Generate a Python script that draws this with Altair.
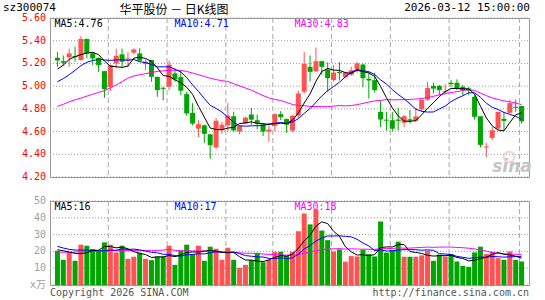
import altair as alt
import pandas as pd

# ---------------- data ----------------
opens = [5.25, 5.22, 5.253, 5.265, 5.23, 5.415, 5.29, 5.25, 5.132, 4.994,
         5.20, 5.28, 5.232, 5.294, 5.288, 5.194, 5.23, 5.082, 4.985, 4.994,
         5.112, 5.08, 4.93, 4.765, 4.625, 4.655, 4.576, 4.46, 4.62, 4.655,
         4.735, 4.60, 4.67, 4.75, 4.70, 4.665, 4.60, 4.65, 4.753, 4.71,
         4.61, 4.74, 4.95, 5.17, 5.13, 5.22, 5.147, 5.053, 5.125, 5.08,
         5.10, 5.15, 5.19, 5.065, 5.053, 4.774, 4.705, 4.70, 4.706, 4.678,
         4.708, 4.696, 4.797, 4.88, 5.002, 5.002, 4.947, 5.03, 5.03, 4.994,
         4.98, 4.906, 4.735, 4.46, 4.544, 4.626, 4.712, 4.765, 4.818, 4.825]
closes = [5.226, 5.206, 5.288, 5.255, 5.415, 5.29, 5.244, 5.185, 4.973, 5.185,
          5.267, 5.215, 5.244, 5.323, 5.224, 5.215, 5.082, 4.965, 4.98, 5.19,
          5.059, 4.96, 4.76, 4.67, 4.665, 4.58, 4.48, 4.695, 4.66, 4.74,
          4.61, 4.65, 4.723, 4.705, 4.67, 4.60, 4.618, 4.753, 4.727, 4.66,
          4.74, 4.935, 5.195, 5.126, 5.22, 5.17, 5.07, 5.12, 5.115, 5.12,
          5.14, 5.20, 5.07, 5.05, 4.965, 4.706, 4.70, 4.625, 4.694, 4.735,
          4.696, 4.733, 4.88, 4.983, 4.978, 4.965, 4.956, 5.018, 4.98, 4.965,
          4.96, 4.73, 4.483, 4.468, 4.612, 4.774, 4.694, 4.85, 4.81, 4.69]
highs = [5.30, 5.27, 5.33, 5.347, 5.44, 5.42, 5.30, 5.25, 5.132, 5.19,
         5.33, 5.33, 5.30, 5.333, 5.333, 5.235, 5.23, 5.082, 4.995, 5.224,
         5.156, 5.141, 4.95, 4.85, 4.70, 4.66, 4.58, 4.72, 4.685, 4.85,
         4.775, 4.656, 4.73, 4.81, 4.75, 4.67, 4.655, 4.76, 4.78, 4.715,
         4.745, 4.96, 5.30, 5.27, 5.34, 5.225, 5.21, 5.185, 5.21, 5.126,
         5.17, 5.215, 5.20, 5.126, 5.118, 4.87, 4.774, 4.774, 4.81, 4.744,
         4.79, 4.81, 4.88, 5.038, 5.03, 5.01, 5.015, 5.055, 5.06, 5.01,
         4.994, 4.92, 4.735, 4.50, 4.64, 4.774, 4.774, 4.88, 4.88, 4.825]
lows = [5.17, 5.18, 5.17, 5.215, 5.224, 5.244, 5.185, 5.126, 4.897, 4.956,
        5.156, 5.17, 5.17, 5.28, 5.215, 5.14, 5.038, 4.906, 4.876, 4.965,
        5.04, 4.92, 4.74, 4.655, 4.55, 4.50, 4.36, 4.45, 4.58, 4.605,
        4.60, 4.575, 4.665, 4.66, 4.62, 4.56, 4.51, 4.605, 4.70, 4.59,
        4.595, 4.72, 4.935, 5.04, 5.126, 5.10, 4.95, 5.04, 5.05, 5.067,
        5.09, 5.12, 4.99, 4.89, 4.944, 4.64, 4.61, 4.606, 4.61, 4.64,
        4.67, 4.685, 4.774, 4.87, 4.935, 4.92, 4.926, 4.994, 4.965, 4.92,
        4.92, 4.706, 4.46, 4.376, 4.524, 4.61, 4.61, 4.76, 4.774, 4.67]
volumes = [20.4, 15.0, 19.4, 14.4, 24.0, 23.4, 21.4, 20.4, 25.4, 24.0,
           19.4, 23.4, 15.6, 16.8, 19.2, 15.6, 14.8, 17.0, 17.0, 23.4,
           12.0, 20.4, 24.0, 18.4, 23.4, 14.4, 22.8, 21.6, 15.0, 22.2,
           15.0, 10.2, 12.0, 14.8, 19.2, 13.6, 15.0, 19.8, 19.8, 17.4,
           19.8, 32.0, 42.6, 36.1, 44.9, 32.4, 26.7, 19.9, 21.2, 13.9,
           17.2, 17.0, 20.9, 18.4, 17.0, 37.8, 19.3, 20.7, 25.8, 16.8,
           16.8, 16.8, 17.6, 20.4, 14.4, 18.1, 17.0, 18.4, 14.0, 11.4,
           10.8, 19.4, 22.8, 18.4, 19.8, 16.0, 15.0, 20.0, 15.0, 14.0]
# moving-average values at the start of the window
ma5_head = [5.15, 5.185, 5.235, 5.26]
ma10_head = [5.038, 5.067, 5.10, 5.14, 5.18, 5.21, 5.226, 5.235, 5.23]
ma30_head = [4.822, 4.84, 4.862, 4.88, 4.895, 4.912, 4.928, 4.945, 4.96, 4.985,
             5.01, 5.04, 5.07, 5.09, 5.10, 5.11, 5.12, 5.13, 5.135, 5.14,
             5.14, 5.138, 5.13, 5.115, 5.10, 5.085, 5.07, 5.058, 5.048]
vma5_head = [21.0, 20.4, 19.6, 18.8]
vma10_head = [23.0, 22.0, 21.2, 20.8, 20.8, 20.8, 20.6, 20.4, 20.4]
vma30_head = [19.6, 19.5, 19.5, 19.6, 19.8, 20.0, 20.0, 20.2, 20.3, 20.5,
              20.5, 20.6, 20.6, 20.6, 20.6, 20.6, 20.6, 20.6, 20.8, 21.3,
              20.6, 20.4, 20.4, 20.3, 20.3, 20.3, 20.2, 20.0, 19.6]
date_index = [9, 19, 29, 37, 47, 57, 67, 79]
date_labels = ["2025-11-24", "12-08", "12-22", "2026-01-05", "01-19", "02-02", "02-24", "03-12"]
price_ticks = [4.2, 4.4, 4.6, 4.8, 5.0, 5.2, 5.4, 5.6]
vol_ticks = [0, 10, 20, 30, 40, 50]

n = len(closes)


def pad(head):
    return head + [None] * (n - len(head))


df = pd.DataFrame({
    "i": list(range(n)), "open": opens, "close": closes, "high": highs, "low": lows, "vol": volumes,
    "ma5h": pad(ma5_head), "ma10h": pad(ma10_head), "ma30h": pad(ma30_head),
    "vma5h": pad(vma5_head), "vma10h": pad(vma10_head), "vma30h": pad(vma30_head),
})
dates_df = pd.DataFrame({"i": date_index, "label": date_labels})
pticks_df = pd.DataFrame({"v": price_ticks})
vticks_df = pd.DataFrame({"v": vol_ticks})
dummy = pd.DataFrame({"k": [0]})

# ---------------- styling ----------------
MONO = "DejaVu Sans Mono"
CJK = "Noto Sans CJK SC"
RED = "#ff5252"
GREEN = "#00a600"
GRID = "#9a9a9a"
FRAME = "#999999"
W, H = 480, 267
PH = 159           # price panel height
VTOP, VBOT = 183, 267

xscale = alt.Scale(domain=[-2.5 / 6, (W - 2.5) / 6], nice=False, zero=False)
pscale = alt.Scale(domain=[price_ticks[0], price_ticks[-1]], range=[PH, 0], nice=False, zero=False)
vscale = alt.Scale(domain=[vol_ticks[0], vol_ticks[-1]], range=[VBOT, VTOP], nice=False, zero=False)

label_expr = " : ".join(f"datum.value == {k} ? '{v}'" for k, v in zip(date_index, date_labels)) + " : ''"
x_axis = alt.Axis(values=date_index, labelExpr=label_expr, title=None, grid=False, ticks=False,
                  domain=False, labelColor="#1874cd", labelFont=MONO, labelFontSize=10,
                  labelPadding=3, labelFlush=8, labelFlushOffset=-4, labelAngle=0,
                  labelOverlap=False, offset=-(H - PH))
Xa = alt.X("i:Q", scale=xscale, axis=x_axis)
Xn = alt.X("i:Q", scale=xscale, axis=None)

color_enc = alt.Color("dir:N", scale=alt.Scale(domain=["up", "down"], range=[RED, GREEN]), legend=None)

base = alt.Chart(df)
cand = base.transform_calculate(
    dir="datum.close >= datum.open ? 'up' : 'down'",
    top="max(datum.open, datum.close)",
    bot="min(min(datum.open, datum.close), max(datum.open, datum.close) - 0.009)",
)


def ma_line(src, head, k, name, color, scale):
    return base.transform_window(
        **{name + "_w": f"mean({src})"}, frame=[-(k - 1), 0], sort=[alt.SortField("i")]
    ).transform_calculate(
        **{name: f"datum.i < {k - 1} ? datum.{head} : datum.{name}_w"}
    ).mark_line(color=color, strokeWidth=1).encode(
        x=Xn, y=alt.Y(f"{name}:Q", scale=scale, axis=None))


def hgrid(ticks_df, scale):
    return alt.Chart(ticks_df).mark_rule(color=GRID, strokeDash=[1, 2], strokeWidth=1).encode(
        x=alt.value(0), x2=alt.value(W), y=alt.Y("v:Q", scale=scale, axis=None))


def ylabels(ticks_df, scale, expr, color):
    return alt.Chart(ticks_df).transform_calculate(lab=expr).mark_text(
        align="right", baseline="middle", font=MONO + ", " + CJK, fontSize=10, color=color, dx=-4
    ).encode(x=alt.value(0), y=alt.Y("v:Q", scale=scale, axis=None), text="lab:N")


# ---------------- price panel ----------------
p_vgrid = alt.Chart(dates_df).mark_rule(color="#aaaaaa", strokeDash=[5, 3], strokeWidth=1, xOffset=-2).encode(
    x=Xn, y=alt.YDatum(price_ticks[-1], scale=pscale, axis=None), y2=alt.Y2Datum(price_ticks[0]))
wicks = cand.mark_rule(strokeWidth=1).encode(
    x=Xn, y=alt.Y("low:Q", scale=pscale, axis=None), y2="high:Q", color=color_enc)
bodies = cand.mark_bar(size=5).encode(
    x=Xa, y=alt.Y("top:Q", scale=pscale, axis=None), y2="bot:Q", color=color_enc)
p_frame = alt.Chart(dummy).mark_rect(fillOpacity=0, stroke=FRAME, strokeWidth=1).encode(
    x=alt.value(0.5), x2=alt.value(W - 0.5), y=alt.value(0.5), y2=alt.value(PH + 0.5))
price = alt.layer(
    hgrid(pticks_df, pscale), p_vgrid, wicks, bodies,
    ma_line("close", "ma30h", 30, "ma30", "#ff00ff", pscale),
    ma_line("close", "ma10h", 10, "ma10", "#0000ff", pscale),
    ma_line("close", "ma5h", 5, "ma5", "#000000", pscale),
    p_frame,
    ylabels(pticks_df, pscale, "format(datum.v, '.2f')", "#ff0000"),
)

# ---------------- volume panel ----------------
v_vgrid = alt.Chart(dates_df).mark_rule(color="#aaaaaa", strokeDash=[5, 3], strokeWidth=1, xOffset=-2).encode(
    x=Xn, y=alt.YDatum(vol_ticks[-1], scale=vscale, axis=None), y2=alt.Y2Datum(vol_ticks[0]))
vbars = cand.mark_bar(size=5).encode(
    x=Xn, y=alt.Y("vol:Q", scale=vscale, axis=None), color=color_enc)
v_frame = alt.Chart(dummy).mark_rect(fillOpacity=0, stroke=FRAME, strokeWidth=1).encode(
    x=alt.value(0.5), x2=alt.value(W - 0.5), y=alt.value(VTOP + 0.5), y2=alt.value(VBOT + 0.5))
volume = alt.layer(
    hgrid(vticks_df, vscale), v_vgrid, vbars,
    ma_line("vol", "vma30h", 30, "vma30", "#ff00ff", vscale),
    ma_line("vol", "vma10h", 10, "vma10", "#0000ff", vscale),
    ma_line("vol", "vma5h", 5, "vma5", "#000000", vscale),
    v_frame,
    ylabels(vticks_df, vscale, "datum.v == 0 ? 'x万' : format(datum.v, 'd')", "#a0a0a0"),
)


# ---------------- texts ----------------
def txt(s, x, y, color="#000000", size=10, align="left", font=MONO, **kw):
    return alt.Chart(dummy).mark_text(text=s, align=align, baseline="middle", font=font,
                                      fontSize=size, color=color, **kw).encode(
        x=alt.value(x), y=alt.value(y))


texts = alt.layer(
    txt("sz300074", -47, -10.5, size=11),
    txt("华平股份 － 日K线图", 124, -8, size=12, align="center", font=CJK),
    txt("2026-03-12 15:00:00", W, -10, size=11, align="right"),
    txt("MA5:4.76", 4.5, 5.5, "#000000"),
    txt("MA10:4.71", 124.5, 5.5, "#0000ff"),
    txt("MA30:4.83", 244.5, 5.5, "#ff00ff"),
    txt("MA5:16", 4.5, 188.5, "#000000"),
    txt("MA10:17", 124.5, 188.5, "#0000ff"),
    txt("MA30:18", 244.5, 188.5, "#ff00ff"),
    txt("Copyright 2026 SINA.COM", 0, 275, "#555555"),
    txt("http://finance.sina.com.cn", W - 1, 275, "#555555", align="right"),
    txt("sina", 462, 149, "#c4c4c4", size=17, align="center", fontStyle="italic", fontWeight="bold",
        font="DejaVu Sans"),
    alt.Chart(dummy).mark_point(shape="circle", filled=False, color="#f0c4c4", size=110, strokeWidth=2).encode(
        x=alt.value(459), y=alt.value(139)),
)

chart = alt.layer(price, volume, texts).resolve_scale(y="independent").properties(
    width=W, height=H,
    autosize=alt.AutoSizeParams(type="none"),
    padding={"left": 50, "top": 18, "right": 15, "bottom": 15},
    background="white",
).configure_view(stroke=None)

chart.save("out.html", embed_options={"renderer": "svg", "actions": False})
